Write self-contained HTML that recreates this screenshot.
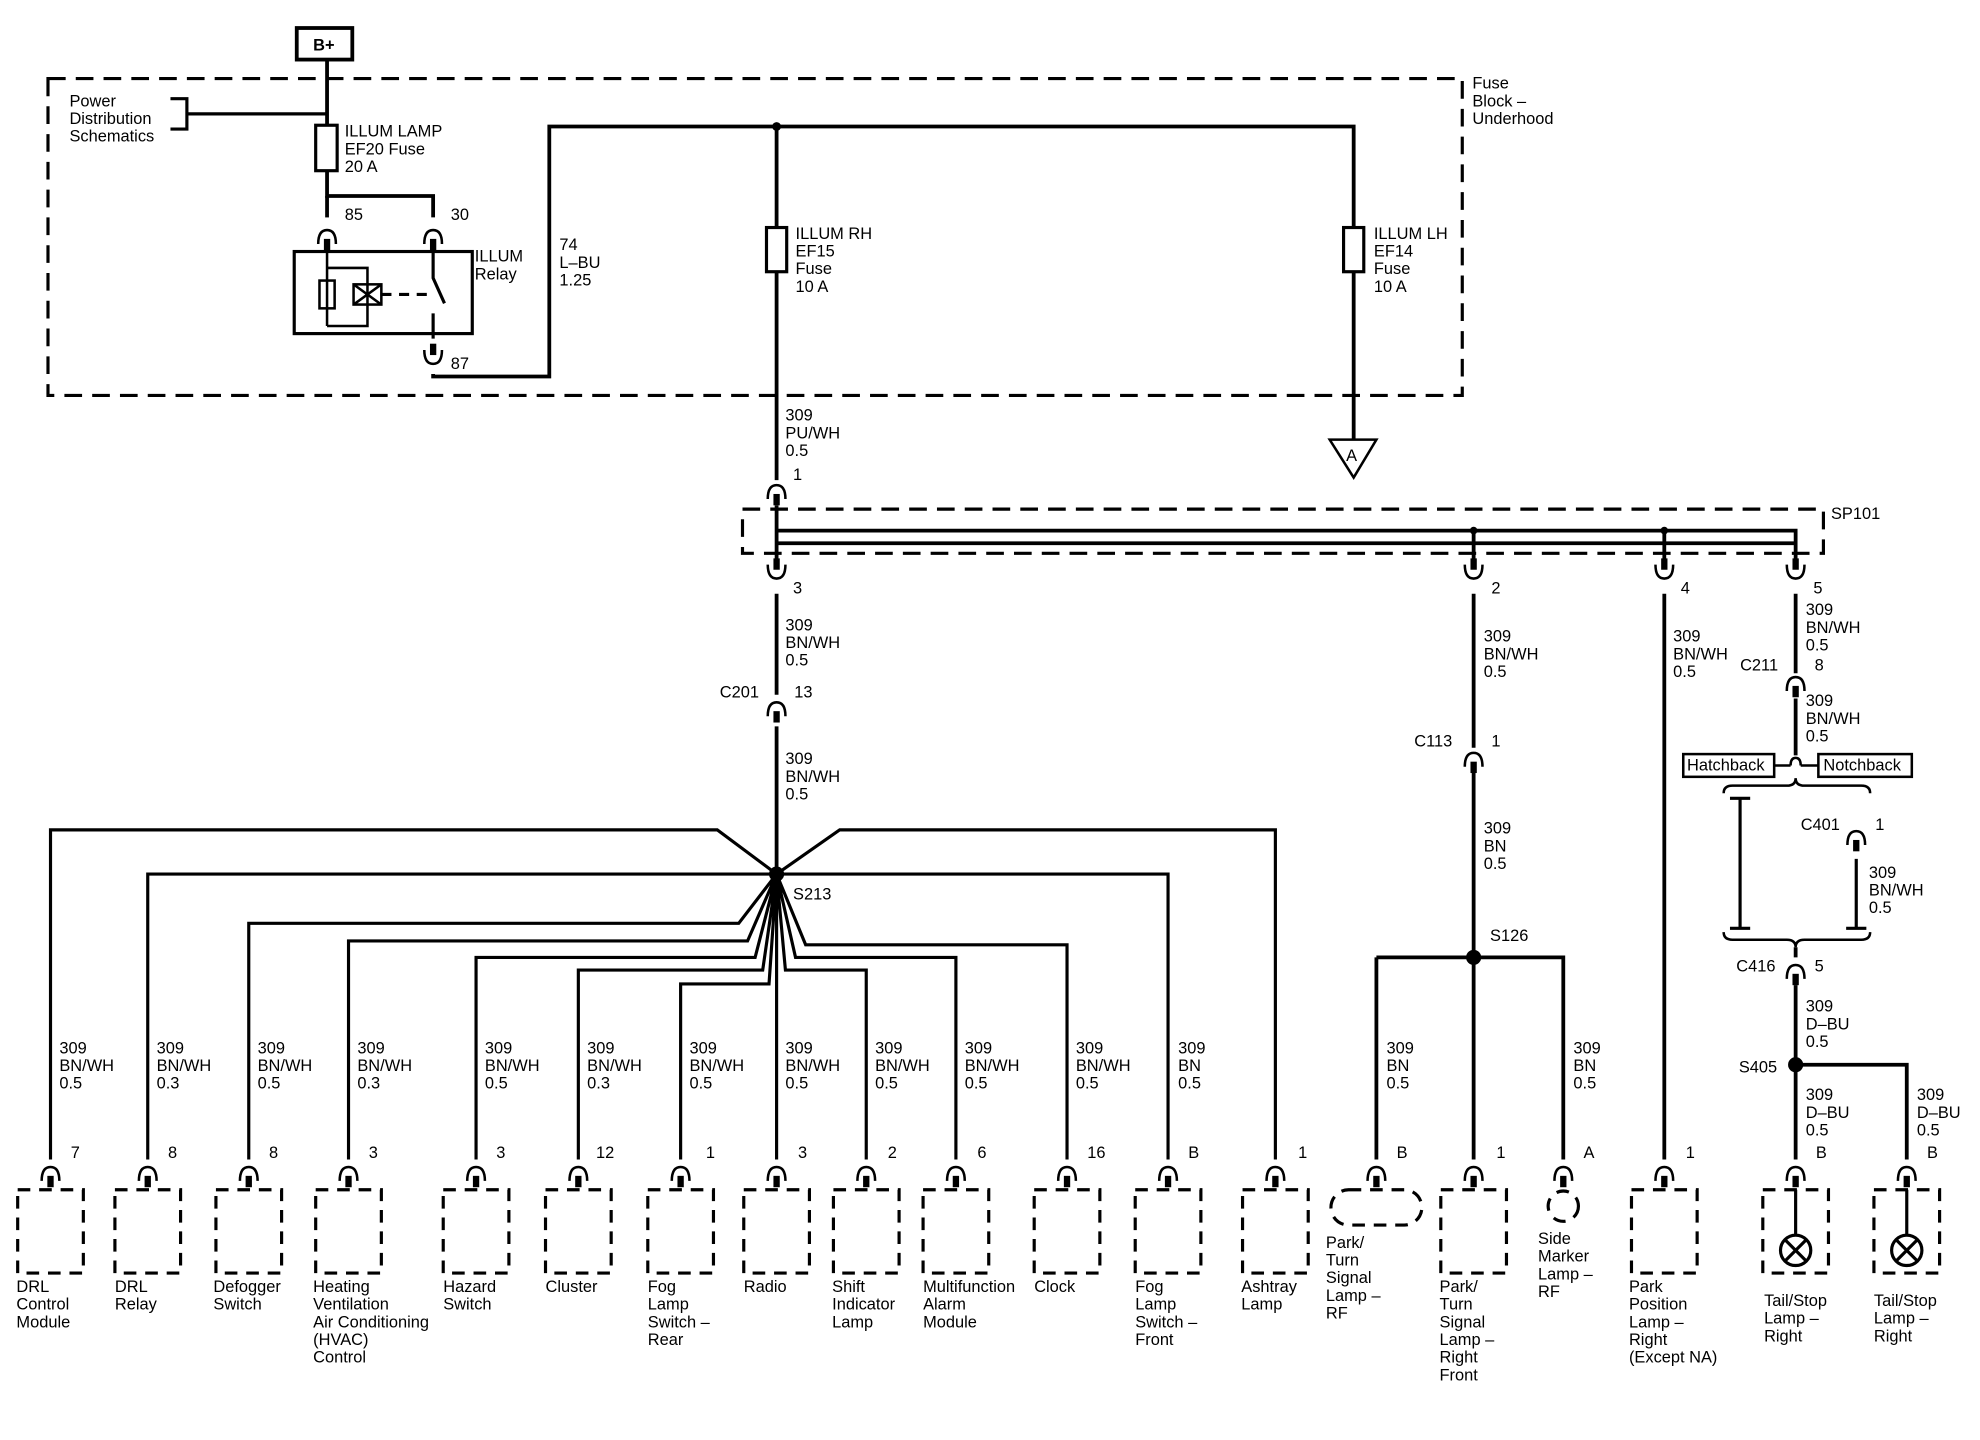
<!DOCTYPE html>
<html><head><meta charset="utf-8"><style>
html,body{margin:0;padding:0;background:#fff}
svg{display:block}
text{font-family:"Liberation Sans",sans-serif;font-size:13px;fill:#000}
</style></head><body>
<svg width="1980" height="1440" viewBox="0 0 1568 1140" xmlns="http://www.w3.org/2000/svg">
<defs>
<g id="pin"><path d="M-7 7 Q-7 -4 0 -4 Q7 -4 7 7" fill="none" stroke="#000" stroke-width="2"/><rect x="-2.5" y="3" width="5" height="9" fill="#000"/></g>
</defs>
<g stroke="#000" fill="none" stroke-width="3">
<!-- B+ -->
<rect x="235" y="22" width="44" height="25" stroke-width="3"/>
<rect x="38" y="62" width="1120" height="251" stroke-dasharray="14,8" stroke-width="2.5"/>
<path d="M259 47 V99 M259 135 V155 H343 V172"/>
<path d="M148 90 H259 M135 78 H148 V102 H135" stroke-width="2.5"/>
<rect x="250" y="99" width="17" height="36" stroke-width="2.5"/>
<path d="M259 155 V172"/>
<rect x="233" y="199" width="141" height="65" stroke-width="2.5"/>
<path d="M259 196 V258 M259 212 H291 V258 H259" stroke-width="2"/>
<rect x="253" y="222" width="12" height="22" stroke-width="2"/>
<rect x="280" y="225" width="22" height="16" stroke-width="2"/>
<path d="M280 225 L302 241 M302 225 L280 241" stroke-width="2"/>
<path d="M302 233 H340" stroke-dasharray="8,6" stroke-width="2.5"/>
<path d="M343 196 V220 L352 240 M343 248 V268" stroke-width="2.5"/>
<path d="M343 296 V298 H435 V100 H1072 V180 M1072 215 V348 M615 100 V180 M615 215 V380" />
<rect x="607" y="180" width="16" height="35" stroke-width="2.5"/>
<rect x="1064" y="180" width="16" height="35" stroke-width="2.5"/>
<path d="M1053 348 H1090 L1072 378 Z" stroke-width="2"/>
<!-- SP101 -->
<rect x="588" y="403" width="856" height="35" stroke-dasharray="14,8" stroke-width="2.5"/>
<path d="M615 400 V445 M615 420 H1422 V445 M1167 420 V445 M1318 420 V445 M615 430 H1422" stroke-width="3"/>
<path d="M615 470 V550 M615 575 V692 M1167 470 V592 M1167 612 V918 M1318 470 V918 M1422 470 V533 M1422 553 V598"/>
<path d="M1090 758 H1238 V918 M1090 758 V918"/>
<!-- fan -->
<path d="M615 692 L568 657 H40 V918 M615 692 H117 V918 M615 692 L585 731 H197 V918 M615 692 L592 745 H276 V918 M615 692 L598 758 H377 V918 M615 692 L604 768 H458 V918 M615 692 L609 779 H539 V918 M615 692 V918 M615 692 L665 657 H1010 V918 M615 692 H925 V918 M615 692 L638 748 H845 V918 M615 692 L630 758 H757 V918 M615 692 L622 768 H686 V918" stroke-width="2.5"/>
<!-- hatch/notch -->
<rect x="1333" y="597" width="72" height="18" stroke-width="2"/>
<rect x="1440" y="597" width="74" height="18" stroke-width="2"/>
<path d="M1405 606 H1418 M1426 606 H1440 M1418 606 Q1418 600 1422 600 Q1426 600 1426 606" stroke-width="2"/>
<path d="M1365 628 Q1365 622 1372 622 H1415 Q1422 622 1422 616 Q1422 622 1429 622 H1474 Q1481 622 1481 628" stroke-width="2"/>
<path d="M1378 632 V735 M1370 632 H1386 M1370 735 H1386 M1470 680 V735 M1462 735 H1478" stroke-width="2.5"/>
<path d="M1365 738 Q1365 744 1372 744 H1415 Q1422 744 1422 750 Q1422 744 1429 744 H1474 Q1481 744 1481 738" stroke-width="2"/>
<path d="M1422 750 V758 M1422 780 V918 M1422 843 H1510 V918"/>
<!-- component boxes -->
<g stroke-width="2.5" stroke-dasharray="10,7">
<rect x="14" y="942" width="52" height="66"/><rect x="91" y="942" width="52" height="66"/><rect x="171" y="942" width="52" height="66"/><rect x="250" y="942" width="52" height="66"/><rect x="351" y="942" width="52" height="66"/><rect x="432" y="942" width="52" height="66"/><rect x="513" y="942" width="52" height="66"/><rect x="589" y="942" width="52" height="66"/><rect x="660" y="942" width="52" height="66"/><rect x="731" y="942" width="52" height="66"/><rect x="819" y="942" width="52" height="66"/><rect x="899" y="942" width="52" height="66"/><rect x="984" y="942" width="52" height="66"/><rect x="1141" y="942" width="52" height="66"/><rect x="1292" y="942" width="52" height="66"/><rect x="1396" y="942" width="52" height="66"/><rect x="1484" y="942" width="52" height="66"/>
<rect x="1054" y="942" width="72" height="28" rx="14"/>
<circle cx="1238" cy="955" r="12"/>
</g>
<path d="M1422 942 V978 M1510 942 V978" stroke-width="2.5"/>
<circle cx="1422" cy="990" r="12" stroke-width="2.5"/><circle cx="1510" cy="990" r="12" stroke-width="2.5"/>
<path d="M1414 982 L1430 998 M1430 982 L1414 998 M1502 982 L1518 998 M1518 982 L1502 998" stroke-width="2.5"/>
</g>
<g fill="#000">
<circle cx="615" cy="100" r="3.5"/><circle cx="615" cy="692" r="6"/><circle cx="1167" cy="758" r="6"/><circle cx="1422" cy="843" r="6"/>
<circle cx="1167" cy="420" r="3"/><circle cx="1318" cy="420" r="3"/>
</g>
<!-- pins -->
<use href="#pin" x="259" y="186"/><use href="#pin" x="343" y="186"/>
<g transform="translate(343,284) scale(1,-1)"><use href="#pin"/></g>
<use href="#pin" x="615" y="388"/>
<g transform="translate(615,454) scale(1,-1)"><use href="#pin"/></g>
<g transform="translate(1167,454) scale(1,-1)"><use href="#pin"/></g>
<g transform="translate(1318,454) scale(1,-1)"><use href="#pin"/></g>
<g transform="translate(1422,454) scale(1,-1)"><use href="#pin"/></g>
<use href="#pin" x="615" y="560"/><use href="#pin" x="1167" y="600"/><use href="#pin" x="1422" y="540"/><use href="#pin" x="1470" y="662"/><use href="#pin" x="1422" y="768"/>
<use href="#pin" x="40" y="928"/><use href="#pin" x="117" y="928"/><use href="#pin" x="197" y="928"/><use href="#pin" x="276" y="928"/><use href="#pin" x="377" y="928"/><use href="#pin" x="458" y="928"/><use href="#pin" x="539" y="928"/><use href="#pin" x="615" y="928"/><use href="#pin" x="686" y="928"/><use href="#pin" x="757" y="928"/><use href="#pin" x="845" y="928"/><use href="#pin" x="925" y="928"/><use href="#pin" x="1010" y="928"/><use href="#pin" x="1090" y="928"/><use href="#pin" x="1167" y="928"/><use href="#pin" x="1238" y="928"/><use href="#pin" x="1318" y="928"/><use href="#pin" x="1422" y="928"/><use href="#pin" x="1510" y="928"/>
<!-- text -->
<text x="248" y="40" font-weight="bold" font-size="14">B+</text>
<text x="55" y="84">Power</text><text x="55" y="98">Distribution</text><text x="55" y="112">Schematics</text>
<text x="273" y="108">ILLUM LAMP</text><text x="273" y="122">EF20 Fuse</text><text x="273" y="136">20 A</text>
<text x="273" y="174">85</text><text x="357" y="174">30</text><text x="357" y="292">87</text>
<text x="376" y="207">ILLUM</text><text x="376" y="221">Relay</text>
<text x="443" y="198">74</text><text x="443" y="212">L–BU</text><text x="443" y="226">1.25</text>
<text x="630" y="189">ILLUM RH</text><text x="630" y="203">EF15</text><text x="630" y="217">Fuse</text><text x="630" y="231">10 A</text>
<text x="1088" y="189">ILLUM LH</text><text x="1088" y="203">EF14</text><text x="1088" y="217">Fuse</text><text x="1088" y="231">10 A</text>
<text x="1166" y="70">Fuse</text><text x="1166" y="84">Block –</text><text x="1166" y="98">Underhood</text>
<text x="1066" y="365">A</text>
<text x="622" y="333">309</text><text x="622" y="347">PU/WH</text><text x="622" y="361">0.5</text><text x="628" y="380">1</text>
<text x="1450" y="411">SP101</text>
<text x="628" y="470">3</text><text x="1181" y="470">2</text><text x="1331" y="470">4</text><text x="1436" y="470">5</text>
<text x="622" y="499">309</text><text x="622" y="513">BN/WH</text><text x="622" y="527">0.5</text>
<text x="570" y="552">C201</text><text x="629" y="552">13</text>
<text x="622" y="605">309</text><text x="622" y="619">BN/WH</text><text x="622" y="633">0.5</text>
<text x="628" y="712">S213</text>
<text x="1175" y="508">309</text><text x="1175" y="522">BN/WH</text><text x="1175" y="536">0.5</text>
<text x="1325" y="508">309</text><text x="1325" y="522">BN/WH</text><text x="1325" y="536">0.5</text>
<text x="1430" y="487">309</text><text x="1430" y="501">BN/WH</text><text x="1430" y="515">0.5</text>
<text x="1378" y="531">C211</text><text x="1437" y="531">8</text>
<text x="1430" y="559">309</text><text x="1430" y="573">BN/WH</text><text x="1430" y="587">0.5</text>
<text x="1120" y="591">C113</text><text x="1181" y="591">1</text>
<text x="1175" y="660">309</text><text x="1175" y="674">BN</text><text x="1175" y="688">0.5</text>
<text x="1180" y="745">S126</text>
<text x="1336" y="610">Hatchback</text><text x="1444" y="610">Notchback</text>
<text x="1426" y="657">C401</text><text x="1485" y="657">1</text>
<text x="1480" y="695">309</text><text x="1480" y="709">BN/WH</text><text x="1480" y="723">0.5</text>
<text x="1375" y="769">C416</text><text x="1437" y="769">5</text>
<text x="1430" y="801">309</text><text x="1430" y="815">D–BU</text><text x="1430" y="829">0.5</text>
<text x="1377" y="849">S405</text>
<text x="1430" y="871">309</text><text x="1430" y="885">D–BU</text><text x="1430" y="899">0.5</text>
<text x="1518" y="871">309</text><text x="1518" y="885">D–BU</text><text x="1518" y="899">0.5</text>
<!-- wire labels -->
<g>
<text x="47" y="834">309</text><text x="47" y="848">BN/WH</text><text x="47" y="862">0.5</text>
<text x="124" y="834">309</text><text x="124" y="848">BN/WH</text><text x="124" y="862">0.3</text>
<text x="204" y="834">309</text><text x="204" y="848">BN/WH</text><text x="204" y="862">0.5</text>
<text x="283" y="834">309</text><text x="283" y="848">BN/WH</text><text x="283" y="862">0.3</text>
<text x="384" y="834">309</text><text x="384" y="848">BN/WH</text><text x="384" y="862">0.5</text>
<text x="465" y="834">309</text><text x="465" y="848">BN/WH</text><text x="465" y="862">0.3</text>
<text x="546" y="834">309</text><text x="546" y="848">BN/WH</text><text x="546" y="862">0.5</text>
<text x="622" y="834">309</text><text x="622" y="848">BN/WH</text><text x="622" y="862">0.5</text>
<text x="693" y="834">309</text><text x="693" y="848">BN/WH</text><text x="693" y="862">0.5</text>
<text x="764" y="834">309</text><text x="764" y="848">BN/WH</text><text x="764" y="862">0.5</text>
<text x="852" y="834">309</text><text x="852" y="848">BN/WH</text><text x="852" y="862">0.5</text>
<text x="933" y="834">309</text><text x="933" y="848">BN</text><text x="933" y="862">0.5</text>
<text x="1098" y="834">309</text><text x="1098" y="848">BN</text><text x="1098" y="862">0.5</text>
<text x="1246" y="834">309</text><text x="1246" y="848">BN</text><text x="1246" y="862">0.5</text>
</g>
<!-- pin numbers -->
<text x="56" y="917">7</text><text x="133" y="917">8</text><text x="213" y="917">8</text><text x="292" y="917">3</text><text x="393" y="917">3</text><text x="472" y="917">12</text><text x="559" y="917">1</text><text x="632" y="917">3</text><text x="703" y="917">2</text><text x="774" y="917">6</text><text x="861" y="917">16</text><text x="941" y="917">B</text><text x="1028" y="917">1</text><text x="1106" y="917">B</text><text x="1185" y="917">1</text><text x="1254" y="917">A</text><text x="1335" y="917">1</text><text x="1438" y="917">B</text><text x="1526" y="917">B</text>
<!-- component names -->
<text x="13" y="1023">DRL</text><text x="13" y="1037">Control</text><text x="13" y="1051">Module</text>
<text x="91" y="1023">DRL</text><text x="91" y="1037">Relay</text>
<text x="169" y="1023">Defogger</text><text x="169" y="1037">Switch</text>
<text x="248" y="1023">Heating</text><text x="248" y="1037">Ventilation</text><text x="248" y="1051">Air Conditioning</text><text x="248" y="1065">(HVAC)</text><text x="248" y="1079">Control</text>
<text x="351" y="1023">Hazard</text><text x="351" y="1037">Switch</text>
<text x="432" y="1023">Cluster</text>
<text x="513" y="1023">Fog</text><text x="513" y="1037">Lamp</text><text x="513" y="1051">Switch –</text><text x="513" y="1065">Rear</text>
<text x="589" y="1023">Radio</text>
<text x="659" y="1023">Shift</text><text x="659" y="1037">Indicator</text><text x="659" y="1051">Lamp</text>
<text x="731" y="1023">Multifunction</text><text x="731" y="1037">Alarm</text><text x="731" y="1051">Module</text>
<text x="819" y="1023">Clock</text>
<text x="899" y="1023">Fog</text><text x="899" y="1037">Lamp</text><text x="899" y="1051">Switch –</text><text x="899" y="1065">Front</text>
<text x="983" y="1023">Ashtray</text><text x="983" y="1037">Lamp</text>
<text x="1050" y="988">Park/</text><text x="1050" y="1002">Turn</text><text x="1050" y="1016">Signal</text><text x="1050" y="1030">Lamp –</text><text x="1050" y="1044">RF</text>
<text x="1140" y="1023">Park/</text><text x="1140" y="1037">Turn</text><text x="1140" y="1051">Signal</text><text x="1140" y="1065">Lamp –</text><text x="1140" y="1079">Right</text><text x="1140" y="1093">Front</text>
<text x="1218" y="985">Side</text><text x="1218" y="999">Marker</text><text x="1218" y="1013">Lamp –</text><text x="1218" y="1027">RF</text>
<text x="1290" y="1023">Park</text><text x="1290" y="1037">Position</text><text x="1290" y="1051">Lamp –</text><text x="1290" y="1065">Right</text><text x="1290" y="1079">(Except NA)</text>
<text x="1397" y="1034">Tail/Stop</text><text x="1397" y="1048">Lamp –</text><text x="1397" y="1062">Right</text>
<text x="1484" y="1034">Tail/Stop</text><text x="1484" y="1048">Lamp –</text><text x="1484" y="1062">Right</text>
</svg>
</body></html>
